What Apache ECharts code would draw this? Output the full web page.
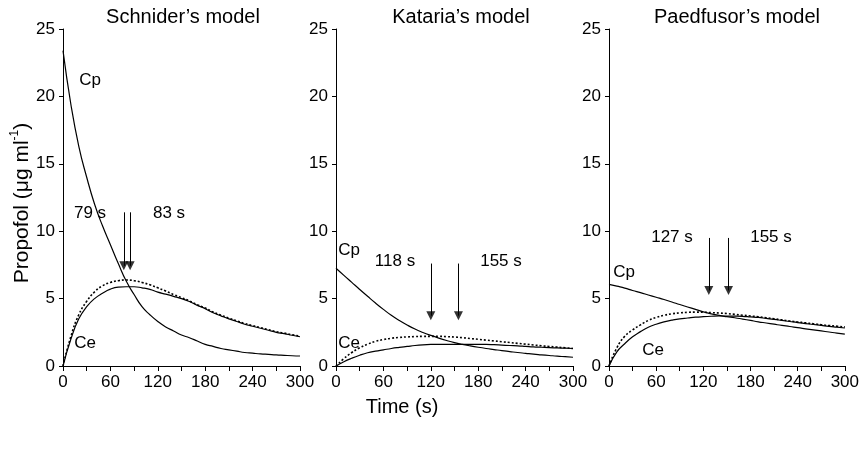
<!DOCTYPE html>
<html>
<head>
<meta charset="utf-8">
<script src="https://cdn.jsdelivr.net/npm/echarts@6/dist/echarts.min.js"></script>
<style>
  html, body { margin: 0; padding: 0; background: #fff; }
  #chart { width: 862px; height: 449px; }
</style>
</head>
<body>
<div id="chart"></div>
<script>
// time points (s)
const times = [0, 10, 20, 30, 40, 50, 60, 70, 80, 90, 100, 110, 120, 130, 140, 150,
  160, 170, 180, 190, 200, 210, 220, 230, 240, 250, 260, 270, 280, 290, 300];

const modelNames = ["Schnider\u2019s model", "Kataria\u2019s model", "Paedfusor\u2019s model"];
const xTicks = [0, 60, 120, 180, 240, 300];
const yTicks = [0, 5, 10, 15, 20, 25];

// Schnider
const schniderCp = [23.4, 19.4, 16.3, 14.0, 12.0, 10.4, 9.0, 7.6, 6.3, 5.3, 4.4, 3.8, 3.3, 2.9, 2.6, 2.3,
  2.1, 1.85, 1.6, 1.45, 1.3, 1.2, 1.1, 1.0, 0.95, 0.9, 0.86, 0.82, 0.79, 0.76, 0.74];
const schniderCe = [0, 2.0, 3.5, 4.4, 5.0, 5.4, 5.7, 5.85, 5.88, 5.88, 5.8, 5.68, 5.48, 5.33, 5.17, 5.0,
  4.78, 4.5, 4.25, 3.95, 3.72, 3.5, 3.3, 3.1, 2.95, 2.8, 2.65, 2.5, 2.4, 2.28, 2.17];
const schniderCeDot = [0, 2.2, 3.8, 4.8, 5.5, 5.95, 6.2, 6.33, 6.38, 6.33, 6.2, 6.02, 5.8, 5.56, 5.3, 5.07,
  4.83, 4.55, 4.3, 4.0, 3.77, 3.55, 3.35, 3.15, 3.0, 2.85, 2.7, 2.55, 2.44, 2.32, 2.22];
const schniderArrowAt = [77, 85];
const schniderArrowText = [79, 83];

// Kataria
const katariaCp = [7.25, 6.72, 6.2, 5.68, 5.17, 4.67, 4.2, 3.76, 3.38, 3.04, 2.74, 2.49, 2.27, 2.07, 1.89, 1.73,
  1.6, 1.49, 1.39, 1.3, 1.22, 1.14, 1.07, 1.0, 0.94, 0.88, 0.83, 0.78, 0.73, 0.69, 0.65];
const katariaCe = [0, 0.32, 0.58, 0.8, 0.98, 1.1, 1.2, 1.3, 1.38, 1.45, 1.52, 1.57, 1.6, 1.61, 1.61, 1.6,
  1.6, 1.6, 1.6, 1.6, 1.58, 1.55, 1.52, 1.5, 1.46, 1.42, 1.39, 1.36, 1.34, 1.32, 1.3];
const katariaCeDot = [0, 0.55, 1.0, 1.35, 1.62, 1.83, 1.96, 2.06, 2.12, 2.16, 2.18, 2.2, 2.2, 2.2, 2.18, 2.15,
  2.1, 2.04, 1.98, 1.92, 1.86, 1.8, 1.74, 1.68, 1.62, 1.56, 1.5, 1.45, 1.4, 1.35, 1.3];
const katariaArrowAt = [120, 155];
const katariaArrowText = [118, 155];

// Paedfusor
const paedCp = [6.06, 5.92, 5.78, 5.6, 5.44, 5.27, 5.1, 4.93, 4.75, 4.56, 4.38, 4.2, 4.02, 3.87, 3.75, 3.66,
  3.58, 3.48, 3.38, 3.28, 3.19, 3.1, 3.01, 2.93, 2.84, 2.76, 2.68, 2.6, 2.52, 2.44, 2.37];
const paedCe = [0, 1.05, 1.65, 2.17, 2.55, 2.88, 3.1, 3.27, 3.4, 3.5, 3.56, 3.62, 3.66, 3.69, 3.71, 3.71,
  3.7, 3.68, 3.64, 3.6, 3.53, 3.46, 3.38, 3.3, 3.22, 3.15, 3.08, 3.01, 2.94, 2.88, 2.82];
const paedCeDot = [0, 1.35, 2.2, 2.67, 3.05, 3.38, 3.6, 3.76, 3.87, 3.94, 3.98, 4.0, 3.99, 3.96, 3.93, 3.89,
  3.83, 3.77, 3.71, 3.65, 3.58, 3.5, 3.42, 3.34, 3.27, 3.2, 3.13, 3.06, 3.0, 2.95, 2.9];
const paedArrowAt = [127, 152];
const paedArrowText = [127, 155];

const FONT = "'Liberation Sans', Arial, sans-serif";

const panels = [
  { cp: schniderCp, ce: schniderCe, dot: schniderCeDot, arrows: schniderArrowAt, arrowTop: 11.4, arrowTip: 7.1 },
  { cp: katariaCp, ce: katariaCe, dot: katariaCeDot, arrows: katariaArrowAt, arrowTop: 7.6, arrowTip: 3.4 },
  { cp: paedCp, ce: paedCe, dot: paedCeDot, arrows: paedArrowAt, arrowTop: 9.5, arrowTip: 5.27 }
];
const gridLefts = [63, 336, 609];
const HEAD = 9;

const pairs = arr => times.map((t, i) => [t, arr[i]]);

const grids = [], xAxes = [], yAxes = [], series = [];
panels.forEach((p, k) => {
  grids.push({ left: gridLefts[k], top: 29, width: 237, height: 337 });
  xAxes.push({
    type: 'value', gridIndex: k, min: 0, max: 300, interval: 30,
    axisLine: { lineStyle: { color: '#000', width: 1 } },
    axisTick: { length: 5, lineStyle: { color: '#000' } },
    splitLine: { show: false },
    axisLabel: {
      color: '#000', fontSize: 17, fontFamily: FONT, margin: 8,
      formatter: v => xTicks.includes(v) ? String(v) : ''
    }
  });
  yAxes.push({
    type: 'value', gridIndex: k, min: 0, max: 25, interval: 5,
    axisLine: { show: true, lineStyle: { color: '#000', width: 1 } },
    axisTick: { show: true, length: 4, lineStyle: { color: '#000' } },
    splitLine: { show: false },
    axisLabel: {
      color: '#000', fontSize: 17, fontFamily: FONT, margin: 8,
      formatter: v => yTicks.includes(v) ? String(v) : ''
    }
  });
  const base = { type: 'line', xAxisIndex: k, yAxisIndex: k, showSymbol: false, smooth: true, silent: true, animation: false };
  // head centre sits half a head above the tip
  const headCentre = p.arrowTip + (HEAD / 2) * 25 / 337;
  series.push(Object.assign({}, base, {
    data: pairs(p.cp),
    lineStyle: { color: '#000', width: 1.2 },
    markLine: {
      silent: true, animation: false,
      symbol: ['none', 'none'],
      label: { show: false },
      lineStyle: { color: '#000', width: 1, type: 'solid' },
      data: p.arrows.map(t => [{ coord: [t, p.arrowTop] }, { coord: [t, headCentre] }])
    }
  }));
  series.push(Object.assign({}, base, {
    data: pairs(p.ce),
    lineStyle: { color: '#000', width: 1.2 }
  }));
  series.push(Object.assign({}, base, {
    data: pairs(p.dot),
    lineStyle: { color: '#000', width: 1.6, type: [2, 2] }
  }));
  // arrow heads
  series.push({
    type: 'scatter', xAxisIndex: k, yAxisIndex: k, silent: true, animation: false,
    symbol: 'triangle', symbolRotate: 180, symbolSize: [HEAD, HEAD],
    itemStyle: { color: '#000' },
    data: p.arrows.map(t => [t, headCentre])
  });
});

function txt(text, x, y, size) {
  return {
    type: 'text', x: x, y: y, silent: true,
    style: { text: text, font: size + 'px ' + FONT, fill: '#000',
      align: 'center', verticalAlign: 'middle', textAlign: 'center', textVerticalAlign: 'middle' }
  };
}

const graphics = [
  txt(modelNames[0], 183, 17, 20),
  txt(modelNames[1], 461, 17, 20),
  txt(modelNames[2], 737, 17, 20),
  txt('Time (s)', 402, 407, 20),
  txt('Cp', 90, 80, 17), txt('Ce', 85, 343, 17),
  txt(schniderArrowText[0] + ' s', 90, 213, 17), txt(schniderArrowText[1] + ' s', 169, 213, 17),
  txt('Cp', 349, 250, 17), txt('Ce', 349, 343, 17),
  txt(katariaArrowText[0] + ' s', 395, 261, 17), txt(katariaArrowText[1] + ' s', 501, 261, 17),
  txt('Cp', 624, 272, 17), txt('Ce', 653, 350, 17),
  txt(paedArrowText[0] + ' s', 672, 237, 17), txt(paedArrowText[1] + ' s', 771, 237, 17),
  {
    type: 'text', x: 22, y: 203, rotation: Math.PI / 2, silent: true,
    style: {
      text: 'Propofol (\u03bcg ml{sup|-1})', font: '21px ' + FONT, fill: '#000', lineHeight: 26,
      align: 'center', verticalAlign: 'middle', textAlign: 'center', textVerticalAlign: 'middle',
      rich: { sup: { fontSize: 12, fontFamily: FONT, lineHeight: 12, verticalAlign: 'top', fill: '#000' } }
    }
  }
];

const chart = echarts.init(document.getElementById('chart'), null, { renderer: 'canvas' });
chart.setOption({
  backgroundColor: '#fff',
  animation: false,
  grid: grids,
  xAxis: xAxes,
  yAxis: yAxes,
  series: series,
  graphic: graphics
});
</script>
</body>
</html>
